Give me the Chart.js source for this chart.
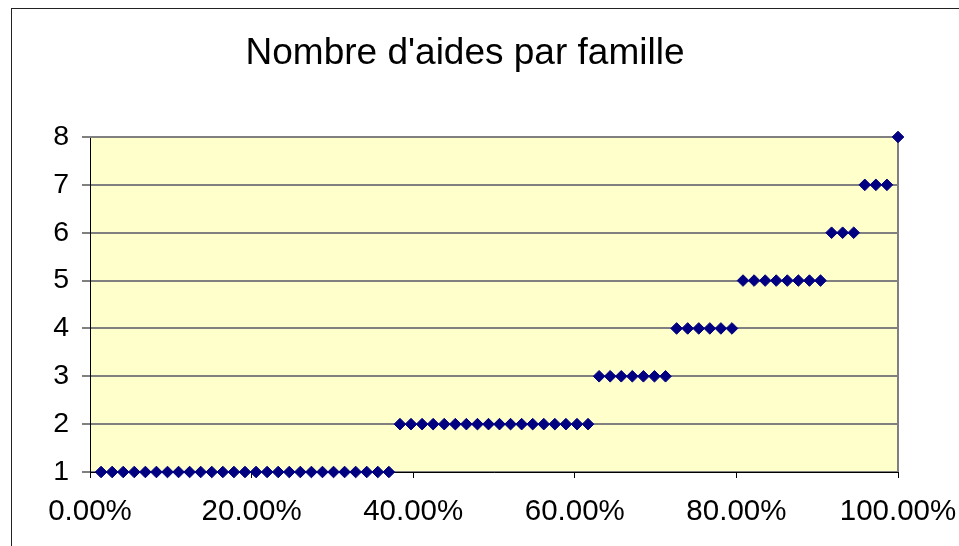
<!DOCTYPE html>
<html lang="fr">
<head>
    <meta charset="UTF-8">
    <title>Nombre d'aides par famille</title>
    <script src="https://cdn.jsdelivr.net/npm/chart.js"></script>
    <style>
        html, body {
            margin: 0;
            padding: 0;
            background: #ffffff;
        }

        .chart-container {
            width: 959px;
            height: 546px;
        }
    </style>
</head>
<body>
    <div class="chart-container">
        <canvas id="aides-chart" width="959" height="546"></canvas>
    </div>

    <script>
        // Part cumulée des familles (en %), une valeur par famille
        const partFamilles = [
            1.37, 2.74, 4.11, 5.48, 6.85, 8.22, 9.59, 10.96, 12.33, 13.70,
            15.07, 16.44, 17.81, 19.18, 20.55, 21.92, 23.29, 24.66, 26.03, 27.40,
            28.77, 30.14, 31.51, 32.88, 34.25, 35.62, 36.99, 38.36, 39.73, 41.10,
            42.47, 43.84, 45.21, 46.58, 47.95, 49.32, 50.68, 52.05, 53.42, 54.79,
            56.16, 57.53, 58.90, 60.27, 61.64, 63.01, 64.38, 65.75, 67.12, 68.49,
            69.86, 71.23, 72.60, 73.97, 75.34, 76.71, 78.08, 79.45, 80.82, 82.19,
            83.56, 84.93, 86.30, 87.67, 89.04, 90.41, 91.78, 93.15, 94.52, 95.89,
            97.26, 98.63, 100.00
        ];

        // Nombre d'aides pour chaque famille
        const nbAides = [
            1, 1, 1, 1, 1, 1, 1, 1, 1, 1,
            1, 1, 1, 1, 1, 1, 1, 1, 1, 1,
            1, 1, 1, 1, 1, 1, 1, 2, 2, 2,
            2, 2, 2, 2, 2, 2, 2, 2, 2, 2,
            2, 2, 2, 2, 2, 3, 3, 3, 3, 3,
            3, 3, 4, 4, 4, 4, 4, 4, 5, 5,
            5, 5, 5, 5, 5, 5, 6, 6, 6, 7,
            7, 7, 8
        ];

        const xTicks = [0, 20, 40, 60, 80, 100];
        const yTicks = [1, 2, 3, 4, 5, 6, 7, 8];

        const fontFamily = "Arial, 'Liberation Sans', sans-serif";

        // Fond jaune de la zone de tracé, bordure grise et cadre extérieur
        const plotArea = {
            id: 'plotArea',
            beforeDraw(chart) {
                const { ctx, chartArea: a } = chart;
                ctx.save();
                ctx.fillStyle = '#ffffff';
                ctx.fillRect(0, 0, chart.width, chart.height);
                ctx.strokeStyle = '#222222';
                ctx.lineWidth = 1;
                ctx.strokeRect(11.5, 8.5, chart.width + 20, chart.height + 20);
                ctx.fillStyle = '#ffffcc';
                ctx.fillRect(a.left, a.top, a.right - a.left, a.bottom - a.top);
                ctx.restore();
            },
            beforeDatasetsDraw(chart) {
                const { ctx, chartArea: a } = chart;
                ctx.save();
                ctx.strokeStyle = '#808080';
                ctx.lineWidth = 2;
                ctx.beginPath();
                ctx.moveTo(a.left - 1, a.top);
                ctx.lineTo(a.right, a.top);
                ctx.lineTo(a.right, a.bottom);
                ctx.stroke();
                ctx.restore();
            }
        };

        const points = partFamilles.map((x, i) => ({ x: x, y: nbAides[i] }));

        new Chart(document.getElementById('aides-chart'), {
            type: 'scatter',
            data: {
                datasets: [{
                    label: "Nombre d'aides",
                    data: points,
                    pointStyle: 'rectRot',
                    pointRadius: 5.8,
                    pointHoverRadius: 5.8,
                    backgroundColor: '#000080',
                    borderColor: '#000080',
                    borderWidth: 1,
                    clip: false
                }]
            },
            options: {
                responsive: false,
                animation: false,
                devicePixelRatio: 1,
                layout: {
                    // décalage à gauche pour centrer le titre comme dans l'original
                    padding: { left: 32, right: 61, top: 0, bottom: 0 }
                },
                plugins: {
                    legend: { display: false },
                    tooltip: { enabled: false },
                    title: {
                        display: true,
                        text: "Nombre d'aides par famille",
                        color: '#000000',
                        font: { family: fontFamily, size: 37, weight: 'normal', lineHeight: 1.2 },
                        padding: { top: 32, bottom: 60.6 }
                    }
                },
                scales: {
                    x: {
                        type: 'linear',
                        min: 0,
                        max: 100,
                        afterBuildTicks(scale) {
                            scale.ticks = xTicks.map(v => ({ value: v }));
                        },
                        afterFit(scale) {
                            scale.height = 74;
                            scale.paddingLeft = 0;
                            scale.paddingRight = 0;
                        },
                        ticks: {
                            color: '#000000',
                            font: { family: fontFamily, size: 29.5 },
                            padding: 16,
                            maxRotation: 0,
                            callback: v => v.toFixed(2) + '%'
                        },
                        grid: {
                            drawOnChartArea: false,
                            color: '#000000',
                            tickLength: 6,
                            lineWidth: 1
                        },
                        border: { display: true, color: '#000000', width: 1 }
                    },
                    y: {
                        type: 'linear',
                        min: 1,
                        max: 8,
                        afterBuildTicks(scale) {
                            scale.ticks = yTicks.map(v => ({ value: v }));
                        },
                        afterFit(scale) {
                            scale.width = 58;
                            scale.paddingTop = 0;
                            scale.paddingBottom = 0;
                        },
                        ticks: {
                            color: '#000000',
                            font: { family: fontFamily, size: 28.5 },
                            padding: 13
                        },
                        grid: {
                            color: '#808080',
                            lineWidth: 2,
                            tickLength: 8
                        },
                        border: { display: true, color: '#000000', width: 1 }
                    }
                }
            },
            plugins: [plotArea]
        });
    </script>
</body>
</html>
